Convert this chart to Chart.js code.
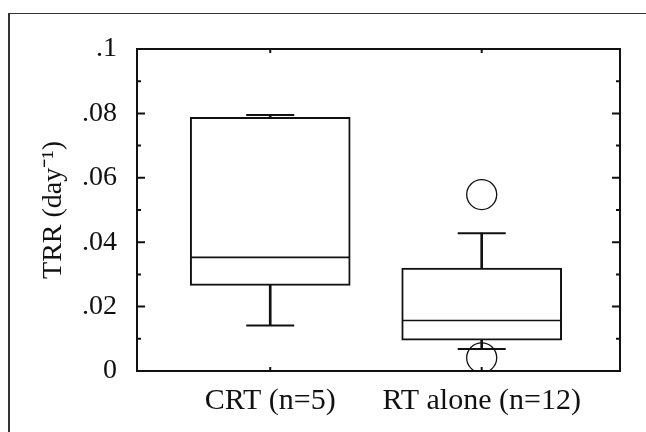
<!DOCTYPE html>
<html>
<head>
<meta charset="utf-8">
<script src="https://cdn.jsdelivr.net/npm/chart.js@4"></script>
<style>
  html, body { margin: 0; padding: 0; background: #fff; }
  #wrap { position: relative; width: 646px; height: 432px; overflow: hidden; }
  #frame { position: absolute; left: 8px; top: 13px; width: 640px; height: 440px;
           border-top: 1px solid #333; border-left: 2px solid #333; pointer-events: none; }
  canvas { position: absolute; left: 0; top: 0; }
</style>
</head>
<body>
<div id="wrap">
  <div id="frame"></div>
  <canvas id="boxChart" width="646" height="432"></canvas>
</div>
<script>
// --- data ---
const categories = ['CRT (n=5)', 'RT alone (n=12)'];
const whiskerLow = [0.0141, 0.0068];
const q1 = [0.0266, 0.0096];
const median = [0.0353, 0.0157];
const q3 = [0.0788, 0.0320];
const whiskerHigh = [0.0795, 0.0428];
const outliers = [[], [0.0548, 0.0041]];
const yMin = 0, yMax = 0.1, yStep = 0.01;

const ink = '#111';
const serif = "'Liberation Serif', 'Times New Roman', serif";

// y labels like ".08", "0", ".1"
function fmtTick(value) {
    const hundredths = Math.round(value * 100);
    if (hundredths % 2 !== 0) return '';
    if (hundredths === 0) return '0';
    return String(hundredths / 100).replace(/^0\./, '.');
}

const xs = categories.map((c, i) => i + 1);

// frame + inward ticks (like the old stat package)
const frameTicks = {
    id: 'frameTicks',
    afterDatasetsDraw(chart) {
        const { ctx, chartArea: a, scales } = chart;
        ctx.save();
        ctx.strokeStyle = ink;
        ctx.lineWidth = 2;
        ctx.strokeRect(a.left, a.top, a.right - a.left, a.bottom - a.top);
        scales.y.ticks.forEach(t => {
            const y = scales.y.getPixelForValue(t.value);
            const len = fmtTick(t.value) !== '' ? 8 : 4;
            ctx.beginPath();
            ctx.moveTo(a.left, y); ctx.lineTo(a.left + len, y);
            ctx.moveTo(a.right, y); ctx.lineTo(a.right - len, y);
            ctx.stroke();
        });
        scales.x.ticks.forEach(t => {
            const x = scales.x.getPixelForValue(t.value);
            ctx.beginPath();
            ctx.moveTo(x, a.top); ctx.lineTo(x, a.top + 4);
            ctx.moveTo(x, a.bottom); ctx.lineTo(x, a.bottom - 4);
            ctx.stroke();
        });
        ctx.restore();
    }
};

function initializeChart() {
    const ctx = document.getElementById('boxChart').getContext('2d');

    new Chart(ctx, {
        type: 'bar',
        data: {
            datasets: [
                {   // whisker stems, hidden behind the boxes
                    type: 'bar',
                    data: xs.map((x, i) => ({ x, y: [whiskerLow[i], whiskerHigh[i]] })),
                    backgroundColor: ink, borderWidth: 0,
                    barThickness: 2, grouped: false, order: 4
                },
                {   // box q1..q3
                    type: 'bar',
                    data: xs.map((x, i) => ({ x, y: [q1[i], q3[i]] })),
                    backgroundColor: '#fff', borderColor: ink, borderWidth: 2,
                    borderSkipped: false, barThickness: 160, grouped: false, order: 3
                },
                {   // median line
                    type: 'scatter',
                    data: xs.map((x, i) => ({ x, y: median[i] })),
                    pointStyle: 'line', pointRadius: 79, borderColor: ink, borderWidth: 1.6,
                    order: 2
                },
                {   // whisker caps
                    type: 'scatter',
                    data: xs.flatMap((x, i) => [{ x, y: whiskerLow[i] }, { x, y: whiskerHigh[i] }]),
                    pointStyle: 'line', pointRadius: 24, borderColor: ink, borderWidth: 2,
                    order: 1
                },
                {   // outliers
                    type: 'scatter',
                    data: xs.flatMap((x, i) => outliers[i].map(v => ({ x, y: v }))),
                    pointStyle: 'circle', pointRadius: 15,
                    backgroundColor: 'rgba(0,0,0,0)', borderColor: ink, borderWidth: 1.3,
                    order: 0
                }
            ]
        },
        options: {
            responsive: false,
            animation: false,
            devicePixelRatio: 1,
            layout: { autoPadding: false, padding: { left: 37, top: 49, right: 26, bottom: 0 } },
            plugins: { legend: { display: false }, tooltip: { enabled: false } },
            scales: {
                x: {
                    type: 'linear', min: 0.37, max: 2.654, offset: false,
                    grid: { display: false }, border: { display: false },
                    afterBuildTicks: (scale) => { scale.ticks = xs.map(v => ({ value: v })); },
                    afterFit: (scale) => { scale.height = 61; },
                    ticks: {
                        autoSkip: false, maxRotation: 0, padding: 4, color: ink,
                        font: { family: serif, size: 30 },
                        callback: (v) => categories[Math.round(v) - 1] || ''
                    }
                },
                y: {
                    min: yMin, max: yMax,
                    grid: { display: false, drawTicks: false }, border: { display: false },
                    afterFit: (scale) => { scale.width = 100; },
                    ticks: {
                        stepSize: yStep, padding: 20, color: ink, autoSkip: false,
                        font: { family: serif, size: 28 },
                        callback: fmtTick
                    },
                    title: {
                        display: true, text: 'TRR (day\u207B\u00B9)', color: ink,
                        padding: 0, font: { family: serif, size: 28 }
                    }
                }
            }
        },
        plugins: [frameTicks]
    });
}

initializeChart();
</script>
</body>
</html>
